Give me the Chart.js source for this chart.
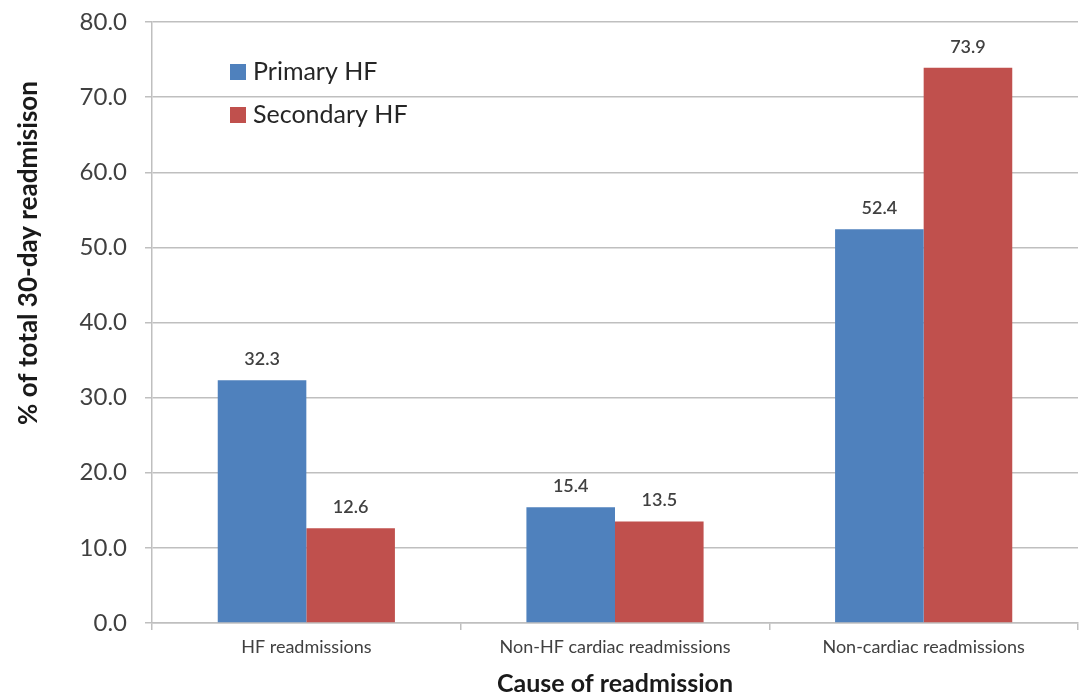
<!DOCTYPE html>
<html>
<head>
<meta charset="utf-8">
<script src="https://cdn.jsdelivr.net/npm/chart.js@4/dist/chart.umd.min.js"></script>
<style>
  html, body { margin: 0; padding: 0; background: #ffffff; }
  #wrap { width: 1086px; height: 696px; }
</style>
</head>
<body>
<div id="wrap"><canvas id="chart" width="1086" height="696"></canvas></div>
<script>
// Readmission causes and share of 30-day readmissions (%)
const categories = ['HF readmissions', 'Non-HF cardiac readmissions', 'Non-cardiac readmissions'];
const primaryHF = [32.3, 15.4, 52.4];
const secondaryHF = [12.6, 13.5, 73.9];
const seriesNames = ['Primary HF', 'Secondary HF'];
const yTicks = [0, 10, 20, 30, 40, 50, 60, 70, 80];

const FONT = 'Lato, "Open Sans", sans-serif';
const TEXT = '#404040';
const GRID = '#bfbfbf';

// Value labels above each bar
const valueLabels = {
  id: 'valueLabels',
  afterDatasetsDraw(chart) {
    const ctx = chart.ctx;
    ctx.save();
    ctx.font = '600 18px ' + FONT;
    ctx.fillStyle = TEXT;
    ctx.textAlign = 'center';
    ctx.textBaseline = 'middle';
    chart.data.datasets.forEach((ds, i) => {
      chart.getDatasetMeta(i).data.forEach((bar, j) => {
        ctx.fillText(ds.data[j].toFixed(1), bar.x, bar.y - 21);
      });
    });
    ctx.restore();
  }
};

// Legend inside the plot area, plus the rotated y-axis title
const decorations = {
  id: 'decorations',
  afterDraw(chart) {
    const ctx = chart.ctx;
    const area = chart.chartArea;
    ctx.save();
    ctx.font = '25px ' + FONT;
    ctx.textBaseline = 'middle';
    ctx.textAlign = 'left';
    chart.data.datasets.forEach((ds, i) => {
      const y = 72 + i * 43;
      const x = area.left + 78;
      ctx.fillStyle = ds.backgroundColor;
      ctx.fillRect(x, y - 8, 16, 16);
      ctx.fillStyle = '#262626';
      ctx.fillText(ds.label, x + 23, y);
    });

    ctx.font = 'bold 26px ' + FONT;
    ctx.fillStyle = '#1a1a1a';
    ctx.textAlign = 'center';
    ctx.translate(29, 253);
    ctx.rotate(-Math.PI / 2);
    ctx.fillText('% of total 30-day readmisison', 0, 0);
    ctx.restore();
  }
};

new Chart(document.getElementById('chart'), {
  type: 'bar',
  data: {
    labels: categories,
    datasets: [
      { label: seriesNames[0], data: primaryHF, backgroundColor: '#4f81bd' },
      { label: seriesNames[1], data: secondaryHF, backgroundColor: '#c0504d' }
    ]
  },
  options: {
    responsive: false,
    animation: false,
    devicePixelRatio: 1,
    layout: { padding: { left: 0, top: 22, right: 8, bottom: 0 } },
    datasets: { bar: { categoryPercentage: 0.574, barPercentage: 1.0 } },
    plugins: {
      legend: { display: false },
      tooltip: { enabled: false }
    },
    scales: {
      x: {
        grid: { drawOnChartArea: false, drawTicks: true, tickLength: 7, color: GRID, lineWidth: 1.5 },
        border: { color: GRID, width: 1.5 },
        ticks: { color: TEXT, font: { family: FONT, size: 18 }, padding: 6, maxRotation: 0 },
        title: {
          display: true,
          text: 'Cause of readmission',
          color: '#1a1a1a',
          font: { family: FONT, size: 25, weight: 'bold' },
          padding: { top: 4, bottom: -3 }
        },
        afterFit(scale) {
          scale.height = 73;
          scale.paddingLeft = 0;
          scale.paddingRight = 0;
        }
      },
      y: {
        min: 0,
        max: 80,
        afterBuildTicks(scale) { scale.ticks = yTicks.map(v => ({ value: v })); },
        grid: { color: GRID, lineWidth: 1.5, tickLength: 7 },
        border: { color: GRID, width: 1.5 },
        ticks: {
          color: TEXT,
          font: { family: FONT, size: 24 },
          padding: 18,
          callback: v => Number(v).toFixed(1)
        },
        afterFit(scale) {
          scale.width = 152;
          scale.paddingTop = 0;
          scale.paddingBottom = 0;
        }
      }
    }
  },
  plugins: [valueLabels, decorations]
});
</script>
</body>
</html>
